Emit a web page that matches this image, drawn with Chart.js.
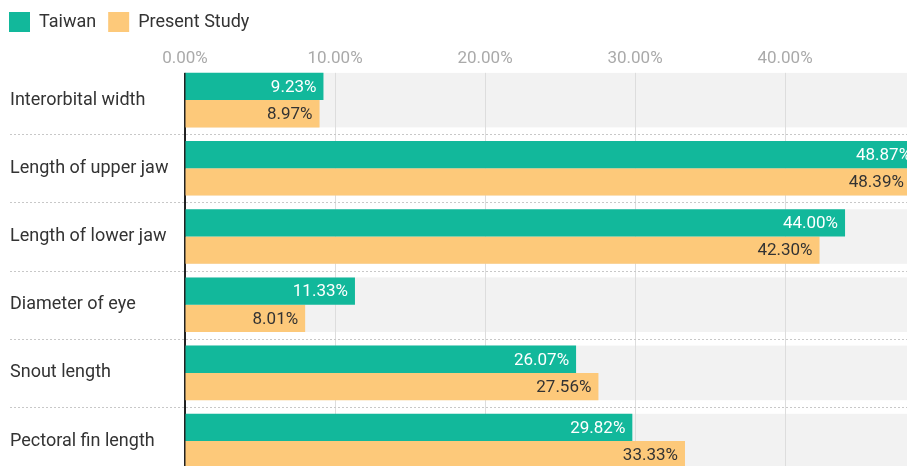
<!DOCTYPE html>
<html>
<head>
<meta charset="utf-8">
<script src="https://cdn.jsdelivr.net/npm/chart.js@4"></script>
<style>
  html, body { margin: 0; padding: 0; background: #fff; overflow: hidden; }
</style>
</head>
<body>
<canvas id="chart" width="907" height="466"></canvas>
<script>
const categories = ["Interorbital width", "Length of upper jaw", "Length of lower jaw", "Diameter of eye", "Snout length", "Pectoral fin length"];
const taiwanValues = [9.23, 48.87, 44.00, 11.33, 26.07, 29.82];
const presentValues = [8.97, 48.39, 42.30, 8.01, 27.56, 33.33];
const tickValues = [0, 10, 20, 30, 40];

// the original plot runs a bit past the right and bottom edges of the picture
const X_MAX = 48.13;
const Y_MIN = -0.5;
const Y_MAX = 5.365;
const CAT_PCT = 0.8;

function bandHalf(chart) {
    const y = chart.scales.y;
    const pitch = Math.abs(y.getPixelForValue(1) - y.getPixelForValue(0));
    return pitch * CAT_PCT / 2;
}

const rowDecor = {
    id: 'rowDecor',
    afterLayout(chart) {
        // pull the legend over to the left edge
        chart.legend.left -= 13;
    },
    beforeDraw(chart) {
        const { ctx, chartArea, scales } = chart;
        const half = bandHalf(chart);
        ctx.save();
        ctx.fillStyle = '#f2f2f2';
        categories.forEach((c, i) => {
            const yc = scales.y.getPixelForValue(i);
            ctx.fillRect(chartArea.left, yc - half, chartArea.right - chartArea.left, half * 2);
        });
        ctx.restore();
    },
    beforeDatasetsDraw(chart) {
        const { ctx, chartArea, scales } = chart;
        const half = bandHalf(chart);
        ctx.save();
        // grid and axis line start at the first row, not at the top of the area
        ctx.fillStyle = '#fff';
        const firstTop = scales.y.getPixelForValue(0) - half;
        ctx.fillRect(chartArea.left - 3, chartArea.top - 1, chartArea.right - chartArea.left + 3, firstTop - chartArea.top + 1);
        // dotted separators between rows
        ctx.strokeStyle = '#c8c8c8';
        ctx.lineWidth = 1;
        ctx.setLineDash([2, 2]);
        for (let i = 0; i < categories.length - 1; i++) {
            const yy = Math.round(scales.y.getPixelForValue(i + 0.5)) + 0.5;
            ctx.beginPath();
            ctx.moveTo(10, yy);
            ctx.lineTo(chartArea.right, yy);
            ctx.stroke();
        }
        ctx.restore();
    },
    afterDatasetsDraw(chart) {
        const { ctx } = chart;
        ctx.save();
        ctx.font = '17px Roboto';
        ctx.textAlign = 'right';
        ctx.textBaseline = 'middle';
        chart.data.datasets.forEach((ds, di) => {
            ctx.fillStyle = di === 0 ? '#ffffff' : '#333333';
            chart.getDatasetMeta(di).data.forEach((bar, i) => {
                ctx.fillText(ds.data[i].x.toFixed(2) + '%', bar.x - 7, bar.y + 1);
            });
        });
        ctx.restore();
    }
};

new Chart(document.getElementById('chart'), {
    type: 'bar',
    data: {
        datasets: [
            { label: 'Taiwan', data: taiwanValues.map((v, i) => ({ x: v, y: i })), backgroundColor: '#12b89b' },
            { label: 'Present Study', data: presentValues.map((v, i) => ({ x: v, y: i })), backgroundColor: '#fdc97a' }
        ]
    },
    options: {
        indexAxis: 'y',
        responsive: false,
        animation: false,
        devicePixelRatio: 1,
        datasets: { bar: { barPercentage: 1, categoryPercentage: CAT_PCT } },
        layout: { padding: { left: 10, right: 0, top: 0, bottom: 0 } },
        plugins: {
            legend: {
                align: 'start',
                maxHeight: 40,
                labels: {
                    boxWidth: 21,
                    boxHeight: 20,
                    padding: 12,
                    color: '#333',
                    font: { family: 'Roboto', size: 18 }
                }
            },
            tooltip: { enabled: false }
        },
        scales: {
            x: {
                type: 'linear',
                position: 'top',
                min: 0,
                max: X_MAX,
                afterBuildTicks(scale) { scale.ticks = tickValues.map(v => ({ value: v })); },
                ticks: {
                    color: '#aaaaaa',
                    font: { family: 'Roboto', size: 17 },
                    padding: -3,
                    callback: v => v.toFixed(2) + '%'
                },
                grid: { color: '#dddddd', drawTicks: false },
                border: { display: false },
                afterFit(scale) { scale.height = 26; }
            },
            y: {
                type: 'linear',
                reverse: true,
                offset: false,
                min: Y_MIN,
                max: Y_MAX,
                afterBuildTicks(scale) { scale.ticks = categories.map((c, i) => ({ value: i })); },
                grid: { display: false, offset: false },
                border: { color: '#222', width: 2 },
                ticks: {
                    crossAlign: 'far',
                    autoSkip: false,
                    color: '#333',
                    font: { family: 'Roboto', size: 18 },
                    callback: v => categories[v]
                },
                afterFit(scale) {
                    scale.width = 175;
                    scale.paddingTop = 0;
                    scale.paddingBottom = 0;
                }
            }
        }
    },
    plugins: [rowDecor]
});
</script>
</body>
</html>
